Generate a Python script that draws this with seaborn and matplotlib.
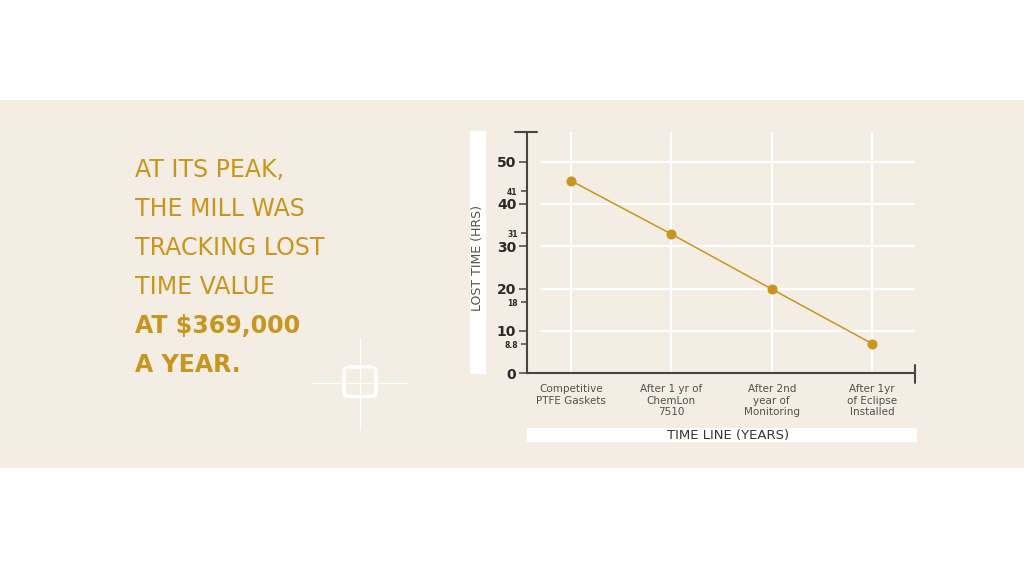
import matplotlib
matplotlib.use("Agg")
import matplotlib.pyplot as plt
from matplotlib.patches import Rectangle, FancyBboxPatch
from matplotlib.lines import Line2D
import seaborn as sns
import pandas as pd

# ---- data ----
categories = ["Competitive\nPTFE Gaskets", "After 1 yr of\nChemLon\n7510",
              "After 2nd\nyear of\nMonitoring", "After 1yr\nof Eclipse\nInstalled"]
lost_time = [45.5, 32.9, 19.9, 7.0]
major_ticks = [0, 10, 20, 30, 40, 50]
minor_tick_pos = [43.0, 33.1, 16.8, 6.9]
minor_tick_labels = ["41", "31", "18", "8.8"]
headline = ["AT ITS PEAK,", "THE MILL WAS", "TRACKING LOST", "TIME VALUE"]
headline_bold = ["AT $369,000", "A YEAR."]
y_title = "LOST TIME (HRS)"
x_title = "TIME LINE (YEARS)"

GOLD = "#C8961E"
BEIGE = "#F3EDE3"
AXIS = "#4A4541"
TXT = "#555049"

sns.set_theme(style="white")
plt.rcParams['font.family'] = ['DejaVu Sans']

W, H = 1024, 569
fig = plt.figure(figsize=(W / 100, H / 100), dpi=100, facecolor="white")


def fx(px):
    return px / W


def fy(py):
    return 1 - py / H


# beige band
fig.patches.append(Rectangle((0, fy(468)), 1, fy(100) - fy(468), transform=fig.transFigure,
                             facecolor=BEIGE, edgecolor="none", zorder=-1))

# axes
ax = fig.add_axes([fx(526.7), fy(373.3), fx(915.3) - fx(526.7), fy(132) - fy(373.3)])
ax.set_facecolor("none")
ax.set_zorder(2)

df = pd.DataFrame({"x": range(len(categories)), "y": lost_time})
ax.set_xlim(-0.44, 3.43)
ax.set_ylim(0, 57)

# grid
ax.vlines(range(len(categories)), 0, 57, colors="white", lw=1.6, zorder=1)
ax.hlines(major_ticks[1:], -0.31, 3.43, colors="white", lw=1.6, zorder=1)

sns.lineplot(data=df, x="x", y="y", ax=ax, color=GOLD, lw=1.1, marker="o",
             markersize=6.5, markeredgecolor=GOLD, markerfacecolor=GOLD, zorder=3)

# spines
for s in ["top", "right"]:
    ax.spines[s].set_visible(False)
for s in ["left", "bottom"]:
    ax.spines[s].set_color(AXIS)
    ax.spines[s].set_linewidth(1.5)

# caps
ax.add_line(Line2D([-0.56, -0.34], [57, 57], color=AXIS, lw=1.5, clip_on=False))
ax.add_line(Line2D([3.43, 3.43], [-2.3, 2.0], color=AXIS, lw=1.5, clip_on=False))

# ticks
ax.set_xticks(range(len(categories)))
ax.set_xticklabels(categories, fontsize=7.5, color=TXT, linespacing=1.15)
ax.tick_params(axis="x", length=0, pad=8)
ax.set_yticks(major_ticks)
ax.set_yticklabels([str(t) for t in major_ticks], fontsize=10, fontweight="bold", color="#2E2A27")
ax.set_yticks(minor_tick_pos, minor=True)
ax.set_yticklabels(minor_tick_labels, minor=True, fontsize=5.5, fontweight="bold", color="#2E2A27")
ax.tick_params(axis="y", which="major", length=6, width=1.1, color=AXIS, pad=1.5, left=True)
ax.tick_params(axis="y", which="minor", length=4, width=1.1, color=AXIS, pad=2.5, left=True)
ax.set_xlabel("")
ax.set_ylabel("")

# axis title boxes
fig.patches.append(Rectangle((fx(470), fy(374)), fx(485.7) - fx(470), fy(131) - fy(374),
                             transform=fig.transFigure, facecolor="white", edgecolor="none", zorder=1))
fig.text(fx(478), fy(258), y_title, rotation=90, ha="center", va="center",
         fontsize=9, color=TXT, zorder=2)
fig.patches.append(Rectangle((fx(527), fy(442)), fx(916.7) - fx(527), fy(428) - fy(442),
                             transform=fig.transFigure, facecolor="white", edgecolor="none", zorder=1))
fig.text(fx(728), fy(435.5), x_title, ha="center", va="center", fontsize=9.5, color="#3A3632", zorder=2)

# headline text
baselines = [177, 216, 255, 294, 333, 372]
for i, line in enumerate(headline + headline_bold):
    bold = i >= len(headline)
    fig.text(fx(135), fy(baselines[i]), line, ha="left", va="baseline",
             fontsize=17, color=GOLD, fontweight="bold" if bold else "normal")

# crosshair decoration
fig.add_artist(Line2D([fx(312), fx(408)], [fy(383.3), fy(383.3)], transform=fig.transFigure,
                      color="white", lw=0.9))
fig.add_artist(Line2D([fx(360), fx(360)], [fy(338), fy(430)], transform=fig.transFigure,
                      color="white", lw=0.9))
fig.patches.append(FancyBboxPatch((fx(344), fy(396.5)), fx(376) - fx(344), fy(367) - fy(396.5),
                                  boxstyle="round,pad=0,rounding_size=0.006",
                                  transform=fig.transFigure, facecolor="none",
                                  edgecolor="white", lw=2.4, zorder=2))

fig.savefig("out.png", dpi=100, facecolor="white")
